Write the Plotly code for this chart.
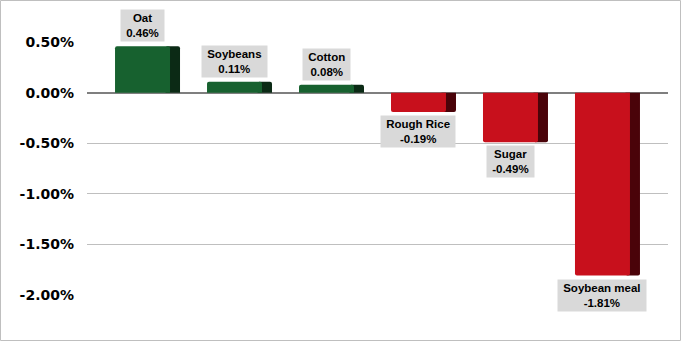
import plotly.graph_objects as go

categories = ["Oat", "Soybeans", "Cotton", "Rough Rice", "Sugar", "Soybean meal"]
values = [0.46, 0.11, 0.08, -0.19, -0.49, -1.81]
tick_vals = [0.5, 0.0, -0.5, -1.0, -1.5, -2.0]
tick_text = ["0.50%", "0.00%", "-0.50%", "-1.00%", "-1.50%", "-2.00%"]

W, H = 681, 341
L, R, T, B = 87, 13, 42, 46
pw, ph = W - L - R, H - T - B

front_col = ["#17612f" if v >= 0 else "#c8101c" for v in values]
side_col = ["#0b2a15" if v >= 0 else "#4a0309" for v in values]

fig = go.Figure()
fig.add_trace(go.Bar(x=categories, y=values, marker=dict(color=side_col, line=dict(width=0), cornerradius=2),
                     width=14.5/92, offset=18/92, hoverinfo="skip"))
fig.add_trace(go.Bar(x=categories, y=values, marker=dict(color=front_col, line=dict(width=0), cornerradius=2),
                     width=55/92, offset=-32.5/92, hoverinfo="skip"))

nb = "\u00a0"
for c, v in zip(categories, values):
    fig.add_annotation(x=c, y=v, xref="x", yref="y",
                       text=f"{nb}{c}{nb}<br>{nb}{v:.2f}%{nb}", showarrow=False,
                       xshift=-5, yshift=4 if v >= 0 else -3,
                       yanchor="bottom" if v >= 0 else "top",
                       bgcolor="#d9d9d9", borderpad=2,
                       font=dict(family="Liberation Sans", size=11.5, color="#000000", weight="bold"))

fig.add_shape(type="rect", xref="paper", yref="paper",
              x0=-(L - 0.5)/pw, x1=1 + (R - 0.5)/pw, y0=-(B - 0.5)/ph, y1=1 + (T - 0.5)/ph,
              line=dict(color="#bfbfbf", width=1), layer="above")

fig.update_layout(
    width=W, height=H, margin=dict(l=L, r=R, t=T, b=B),
    paper_bgcolor="white", plot_bgcolor="white", barmode="overlay", showlegend=False,
    xaxis=dict(range=[-0.658, 5.658], showticklabels=False, showgrid=False, zeroline=False, fixedrange=True),
    yaxis=dict(range=[-2.003, 0.503], tickvals=tick_vals, ticktext=tick_text,
               showgrid=True, gridcolor="#bfbfbf", gridwidth=1,
               zeroline=True, zerolinecolor="#7f7f7f", zerolinewidth=1.5,
               ticklabelstandoff=12,
               tickfont=dict(family="DejaVu Sans", size=14, color="#000000", weight="bold")),
)

fig.write_html("out.html")
